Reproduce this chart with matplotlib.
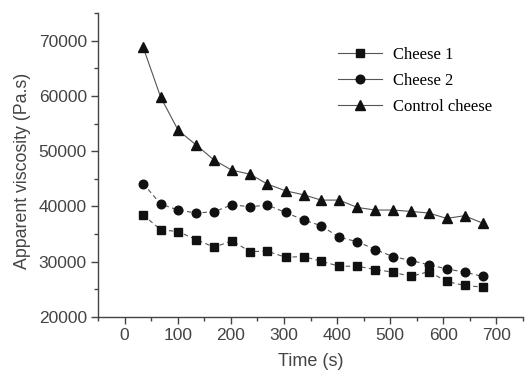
import matplotlib.pyplot as plt
from matplotlib.ticker import MultipleLocator

# time points (s)
time_s = [35, 68, 101, 135, 169, 202, 236, 269, 303, 337,
          370, 404, 438, 472, 505, 539, 573, 606, 640, 675]

# apparent viscosity (Pa.s)
cheese_1 = [38450, 35800, 35440, 34000, 32610, 33820, 31840, 31900, 30810, 30940,
            30090, 29190, 29190, 28590, 28110, 27330, 28230, 26430, 25710, 25400]
cheese_2 = [44140, 40430, 39350, 38810, 39050, 40300, 39950, 40250, 38920, 37550,
            36520, 34410, 33640, 32200, 30940, 30220, 29440, 28720, 28110, 27330]
control = [68800, 59770, 53770, 51100, 48360, 46560, 45840, 44040, 42830, 42110,
           41150, 41150, 39820, 39350, 39350, 39100, 38810, 37840, 38320, 36940]

plt.rcParams['font.family'] = ['Liberation Sans', 'DejaVu Sans']

fig = plt.figure(figsize=(5.29, 3.71), dpi=100)
ax = fig.add_axes([98 / 529, 54 / 371, 425 / 529, 304 / 371])

line_col = '#555555'
mk = '#111111'
ax.plot(time_s, cheese_1, color=line_col, lw=0.8, ls=(0, (4, 3)),
        marker='s', ms=5.8, mfc=mk, mec=mk, label='Cheese 1')
ax.plot(time_s, cheese_2, color=line_col, lw=0.8, ls=(0, (4, 3)),
        marker='o', ms=6.2, mfc=mk, mec=mk, label='Cheese 2')
ax.plot(time_s, control, color=line_col, lw=0.8, ls='-',
        marker='^', ms=7.5, mfc=mk, mec=mk, label='Control cheese')

ax.set_xlim(-50, 750)
ax.set_ylim(20000, 75000)
ax.xaxis.set_minor_locator(MultipleLocator(50))
ax.yaxis.set_minor_locator(MultipleLocator(5000))
ax.set_yticks(range(20000, 70001, 10000))
ax.set_xticks(range(0, 701, 100))

for s in ['top', 'right']:
    ax.spines[s].set_visible(False)
for s in ['left', 'bottom']:
    ax.spines[s].set_color('#444444')
    ax.spines[s].set_linewidth(1.0)

ax.tick_params(which='major', direction='out', length=5, width=1,
               color='#444444', labelsize=12.5, labelcolor='#444444', pad=3)
ax.tick_params(which='minor', direction='out', length=3, width=1, color='#444444')

ax.set_xlabel('Time (s)', fontsize=13, color='#444444', labelpad=7)
ax.set_ylabel('Apparent viscosity (Pa.s)', fontsize=12.8, color='#444444')
ax.yaxis.set_label_coords(-0.158, 0.48)

leg = ax.legend(loc='upper left', bbox_to_anchor=(0.564, 0.888), frameon=False,
                borderpad=0, borderaxespad=0, handlelength=2.65, handletextpad=0.65,
                labelspacing=0.6, prop={'family': 'Liberation Serif', 'size': 12})
for ln in leg.get_lines():
    ln.set_linestyle('-')

fig.savefig('out.png', dpi=100)
